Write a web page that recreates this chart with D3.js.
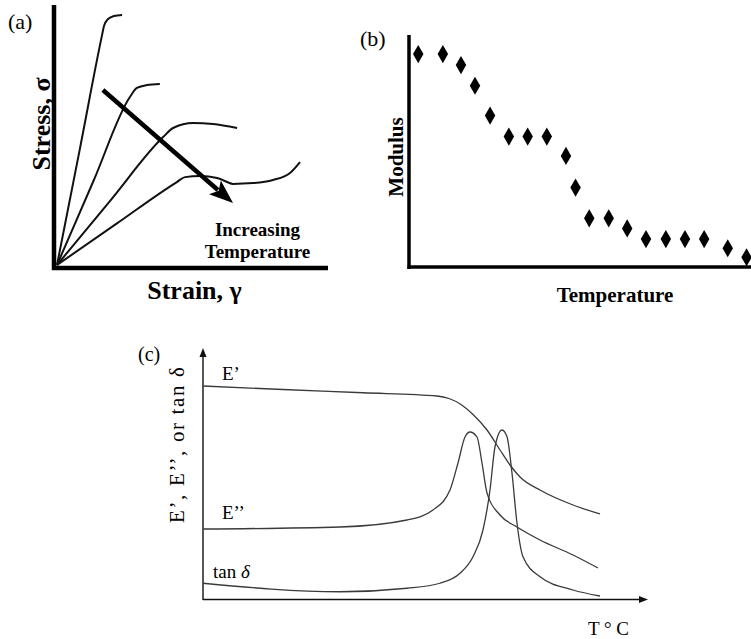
<!DOCTYPE html>
<html>
<head>
<meta charset="utf-8">
<script src="https://cdn.jsdelivr.net/npm/d3@7"></script>
<style>
  html, body { margin: 0; padding: 0; background: #fff; }
  svg { display: block; }
  .serif { font-family: "Liberation Serif", "DejaVu Serif", "Noto Serif", serif; }
</style>
</head>
<body>
<script>
// ---------- (a) stress–strain curves, one per temperature (strain, stress in % of full scale)
const strainCurve1 = [[0,0],[8.4,44.3],[16.7,88.5],[17.4,91.9],[18.9,94.6],[21.1,95.8],[24.1,96.2]];
const strainCurve2 = [[0,0],[13.5,32.3],[27.0,64.6],[29.6,68.1],[33.3,69.2],[38.1,69.6]];
const strainCurve3 = [[0,0],[19.6,24.6],[39.3,49.2],[43.0,52.7],[50.4,54.6],[57.8,54.2],[66.7,52.7]];
const strainCurve4 = [[0,0],[22.2,16.0],[44.4,31.9],[47.4,33.8],[53.0,34.2],[59.3,33.5],[63.0,31.9],
                      [65.2,31.2],[72.6,31.5],[80.0,32.7],[86.3,35.4],[90.0,39.6]];
const trendArrow = [[17.0,67.3],[65.2,23.8]];

// ---------- (b) modulus against temperature
const modTemperature = [2.7,9.9,15.2,19.3,23.7,29.2,34.7,40.3,45.9,48.7,52.7,58.4,63.8,69.3,75.1,80.7,86.3,93.2,98.7];
const modValue       = [91.8,91.8,87.1,78.2,65.4,56.4,56.4,56.4,48.1,34.5,21.3,21.3,17.0,12.4,12.4,12.4,12.4,8.5,4.6];

// ---------- (c) dynamic mechanical curves against temperature
const storageModulus = [[0,85.6],[20,84.2],[40,82.9],[58.5,81.6],[61.5,80.6],[64.5,78.2],[67.5,74.2],[71,68],[74.25,60],
                        [76.75,54],[79.25,49.2],[84.25,44],[92.5,38],[99.25,34.4]];
const lossModulus    = [[0,28.4],[34.25,29.2],[51,32],[57.5,36],[61.75,44],[63.75,54.8],[65.5,65.2],[66.75,67.2],
                        [68.5,65.2],[69.75,54.8],[71,42.8],[74.25,34],[78.5,29.2],[84.25,24],[92.5,18],[98.75,12.8]];
const tanDelta       = [[0,6.7],[34.25,3.3],[51,4.7],[59.25,6.7],[64.25,10.7],[67.5,17.3],[70,28],[71.75,44],[73,61.3],
                        [74.75,68],[76,65.3],[77.25,50.7],[78.5,30.7],[80,17.3],[84.25,9.3],[92.5,4],[99.25,1.6]];

const W = 751, H = 639;

const svg = d3.select("body").append("svg")
  .attr("width", W).attr("height", H)
  .attr("viewBox", `0 0 ${W} ${H}`);
svg.append("rect").attr("width", W).attr("height", H).attr("fill", "#fff");

function label(g, txt, opts) {
  const t = g.append("text").attr("class", "serif")
    .attr("font-size", opts.size)
    .attr("font-weight", opts.bold ? "bold" : "normal")
    .attr("text-anchor", opts.anchor || "start");
  if (opts.rotate) t.attr("transform", `translate(${opts.x},${opts.y}) rotate(-90)`);
  else t.attr("x", opts.x).attr("y", opts.y);
  if (opts.length) t.attr("textLength", opts.length).attr("lengthAdjust", "spacing");
  t.text(txt);
  return t;
}

// ================= panel (a) =================
const xA = d3.scaleLinear().domain([0, 100]).range([57, 327]);
const yA = d3.scaleLinear().domain([0, 100]).range([265, 5]);
const gA = svg.append("g");

gA.append("line").attr("x1", xA(0) - 3).attr("x2", xA(0) - 3)
  .attr("y1", yA(100)).attr("y2", yA(0) + 5)
  .attr("stroke", "#000").attr("stroke-width", 4.5);
gA.append("line").attr("x1", xA(0) - 5).attr("x2", xA(100) + 1)
  .attr("y1", yA(0) + 3).attr("y2", yA(0) + 3)
  .attr("stroke", "#000").attr("stroke-width", 4.5);

const lineA = d3.line().x(d => xA(d[0])).y(d => yA(d[1])).curve(d3.curveMonotoneX);
[strainCurve1, strainCurve2, strainCurve3, strainCurve4].forEach(c => {
  gA.append("path").attr("d", lineA(c))
    .attr("fill", "none").attr("stroke", "#111").attr("stroke-width", 2);
});

// thick arrow showing the trend with temperature
{
  const x1 = xA(trendArrow[0][0]), y1 = yA(trendArrow[0][1]);
  const x2 = xA(trendArrow[1][0]), y2 = yA(trendArrow[1][1]);
  const len = Math.hypot(x2 - x1, y2 - y1);
  const ux = (x2 - x1) / len, uy = (y2 - y1) / len;
  const nx = -uy, ny = ux;
  const headL = 24, headW = 9;
  const bx = x2 - ux * headL, by = y2 - uy * headL;
  gA.append("line").attr("x1", x1).attr("y1", y1).attr("x2", bx + ux * 4).attr("y2", by + uy * 4)
    .attr("stroke", "#000").attr("stroke-width", 4.5);
  gA.append("path")
    .attr("d", `M${x2},${y2}L${bx + nx * headW},${by + ny * headW}L${bx + ux * 5},${by + uy * 5}L${bx - nx * headW},${by - ny * headW}Z`)
    .attr("fill", "#000");
}

label(gA, "(a)", {x: 8, y: 29, size: 22});
label(gA, "Stress, σ", {x: 50, y: 124, size: 26, bold: true, anchor: "middle", rotate: true});
label(gA, "Strain, γ", {x: 194.5, y: 299, size: 26, bold: true, anchor: "middle"});
label(gA, "Increasing", {x: 257.5, y: 236, size: 19, bold: true, anchor: "middle"});
label(gA, "Temperature", {x: 257.5, y: 258, size: 19, bold: true, anchor: "middle"});

// ================= panel (b) =================
const xB = d3.scaleLinear().domain([0, 100]).range([409, 751]);
const yB = d3.scaleLinear().domain([0, 100]).range([268, 35]);
const gB = svg.append("g");

gB.append("line").attr("x1", xB(0)).attr("x2", xB(0))
  .attr("y1", yB(100)).attr("y2", yB(0) + 1)
  .attr("stroke", "#000").attr("stroke-width", 3.5);
gB.append("line").attr("x1", xB(0) - 1.5).attr("x2", xB(100))
  .attr("y1", yB(0) - 1).attr("y2", yB(0) - 1)
  .attr("stroke", "#000").attr("stroke-width", 3.5);

const diamond = d3.symbol().type(d3.symbolDiamond).size(95);
gB.selectAll("path.pt").data(modTemperature.map((t, i) => [t, modValue[i]]))
  .join("path").attr("class", "pt")
  .attr("d", diamond)
  .attr("transform", d => `translate(${xB(d[0])},${yB(d[1])})`)
  .attr("fill", "#000");

label(gB, "(b)", {x: 360, y: 46, size: 22});
label(gB, "Modulus", {x: 403, y: 157, size: 21, bold: true, anchor: "middle", rotate: true});
label(gB, "Temperature", {x: 615, y: 302, size: 21, bold: true, anchor: "middle"});

// ================= panel (c) =================
const xC = d3.scaleLinear().domain([0, 100]).range([203, 603]);
const yC = d3.scaleLinear().domain([0, 100]).range([600, 350]);
const gC = svg.append("g");

// axes with arrow heads
gC.append("line").attr("x1", xC(0)).attr("x2", xC(0))
  .attr("y1", yC(0)).attr("y2", yC(100) + 4)
  .attr("stroke", "#111").attr("stroke-width", 1.4);
gC.append("path")
  .attr("d", `M${xC(0)},${yC(100) - 2}l-3.5,9h7Z`).attr("fill", "#111");
gC.append("line").attr("x1", xC(0)).attr("x2", 644)
  .attr("y1", yC(0) - 0.5).attr("y2", yC(0) - 0.5)
  .attr("stroke", "#111").attr("stroke-width", 1.4);
gC.append("path")
  .attr("d", `M648,${yC(0) - 0.5}l-9,-3.5v7Z`).attr("fill", "#111");

const lineC = d3.line().x(d => xC(d[0])).y(d => yC(d[1])).curve(d3.curveMonotoneX);
[storageModulus, lossModulus, tanDelta].forEach(c => {
  gC.append("path").attr("d", lineC(c))
    .attr("fill", "none").attr("stroke", "#3a3a3a").attr("stroke-width", 1.3);
});

label(gC, "(c)", {x: 138, y: 361, size: 20});
label(gC, "E’, E’’, or tan δ", {x: 184, y: 445, size: 21, anchor: "middle", rotate: true, length: 156});
label(gC, "E’", {x: 222, y: 380, size: 19});
label(gC, "E’’", {x: 222, y: 519, size: 19});
{
  const t = label(gC, "", {x: 213, y: 578, size: 19});
  t.append("tspan").text("tan ");
  t.append("tspan").attr("font-style", "italic").text("δ");
}
label(gC, "T ° C", {x: 588, y: 635, size: 19});
</script>
</body>
</html>
